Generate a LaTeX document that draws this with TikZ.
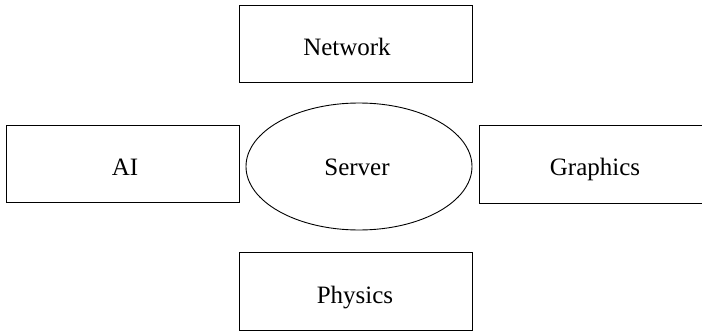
\documentclass[tikz,border=0pt]{standalone}
\usepackage{fontspec}
\setmainfont{Liberation Serif}
\usetikzlibrary{shapes.geometric}
\begin{document}
\begin{tikzpicture}[x=1pt,y=-1pt,
  box/.style={draw=black, line width=0.9pt, rectangle, inner sep=0pt},
  oval/.style={draw=black, line width=0.9pt, ellipse, inner sep=0pt},
  lbl/.style={anchor=base, inner sep=0pt, font=\fontsize{25}{30}\selectfont}]
\useasboundingbox (0,0) rectangle (702,332);
\begin{scope}
\clip (0,0) rectangle (702,332);
\node[box, minimum width=233pt, minimum height=77pt] (net) at (355.5,43.5) {};
\node[box, minimum width=233pt, minimum height=77pt] (ai) at (122.5,163.5) {};
\node[box, minimum width=233pt, minimum height=78pt] (gfx) at (595.5,164) {};
\node[box, minimum width=233pt, minimum height=78pt] (phy) at (355.5,291) {};
\node[oval, minimum width=226pt, minimum height=127pt] (srv) at (359,166.5) {};
\end{scope}
\node[lbl] (netl) at (347,55) {Network};
\node[lbl] (ail) at (125,175) {AI};
\node[lbl] (srvl) at (357,175) {Server};
\node[lbl] (gfxl) at (595,175) {Graphics};
\node[lbl] (phyl) at (355,303) {Physics};
\end{tikzpicture}
\end{document}
